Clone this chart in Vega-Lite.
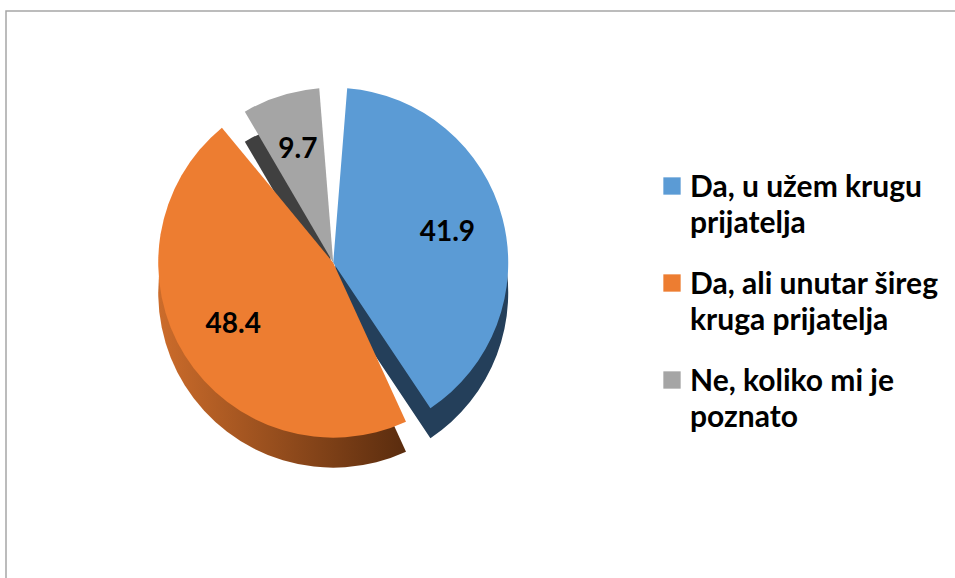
{
  "$schema": "https://vega.github.io/schema/vega-lite/v6.json",
  "width": 955,
  "height": 578,
  "autosize": {"type": "fit", "contains": "padding"},
  "padding": {"left": 6, "top": 11, "right": -5, "bottom": -5},
  "view": {"stroke": "#A6A6A6", "strokeWidth": 1.5},
  "config": {
    "view": {"stroke": "#A6A6A6", "strokeWidth": 1.5},
    "font": "Lato",
    "style": {"guide-label": {"dy": -13, "lineHeight": 36}}
  },
  "data": {
    "values": [
      {"category": "Da, u užem krugu prijatelja", "value": 41.9, "order": 1},
      {"category": "Da, ali unutar šireg kruga prijatelja", "value": 48.4, "order": 2},
      {"category": "Ne, koliko mi je poznato", "value": 9.7, "order": 3}
    ]
  },
  "layer": [
    {
      "mark": {"type": "arc", "radius": 175, "padAngle": 0.16, "yOffset": 30, "x": {"expr": "width*0.343"}, "y": {"expr": "height*0.44"}},
      "encoding": {
        "theta": {"field": "value", "type": "quantitative", "stack": true},
        "order": {"field": "order", "type": "quantitative"},
        "color": {
          "condition": {"test": "datum.order == 2", "value": {"gradient": "linear", "x1": 0, "x2": 1, "y1": 0, "y2": 0, "stops": [{"offset": 0, "color": "#CC6C2B"}, {"offset": 1, "color": "#5A2C0E"}]}},
          "field": "category", "type": "nominal",
          "scale": {"domain": ["Da, u užem krugu prijatelja", "Da, ali unutar šireg kruga prijatelja", "Ne, koliko mi je poznato"], "range": ["#243F5A", "#94491B", "#404040"]},
          "legend": null
        }
      }
    },
    {
      "mark": {"type": "arc", "radius": 175, "padAngle": 0.16, "x": {"expr": "width*0.343"}, "y": {"expr": "height*0.44"}},
      "encoding": {
        "theta": {"field": "value", "type": "quantitative", "stack": true},
        "order": {"field": "order", "type": "quantitative"},
        "color": {
          "field": "category", "type": "nominal",
          "scale": {"domain": ["Da, u užem krugu prijatelja", "Da, ali unutar šireg kruga prijatelja", "Ne, koliko mi je poznato"], "range": ["#5B9BD5", "#ED7D31", "#A5A5A5"]},
          "legend": {
            "title": null,
            "orient": "none",
            "legendX": 651,
            "legendY": 160,
            "symbolType": "square",
            "symbolSize": 300,
            "symbolStrokeWidth": 0,
            "labelFontSize": 30,
            "labelFontWeight": "bold",
            "labelColor": "#000000",
            "labelLimit": 400,
            "labelOffset": 3,
            "labelBaseline": "top",
            "rowPadding": 29,
            "labelExpr": "datum.label == 'Da, u užem krugu prijatelja' ? ['Da, u užem krugu', 'prijatelja'] : datum.label == 'Da, ali unutar šireg kruga prijatelja' ? ['Da, ali unutar šireg', 'kruga prijatelja'] : ['Ne, koliko mi je', 'poznato']"
          }
        }
      }
    },
    {
      "mark": {"type": "text", "radius": 118, "fontSize": 28, "fontWeight": "bold", "color": "#000000", "x": {"expr": "width*0.343"}, "y": {"expr": "height*0.44"}},
      "encoding": {
        "theta": {"field": "value", "type": "quantitative", "stack": true},
        "order": {"field": "order", "type": "quantitative"},
        "text": {"field": "value", "type": "quantitative", "format": ".1f"}
      }
    }
  ],
  "resolve": {"scale": {"color": "independent"}}
}
